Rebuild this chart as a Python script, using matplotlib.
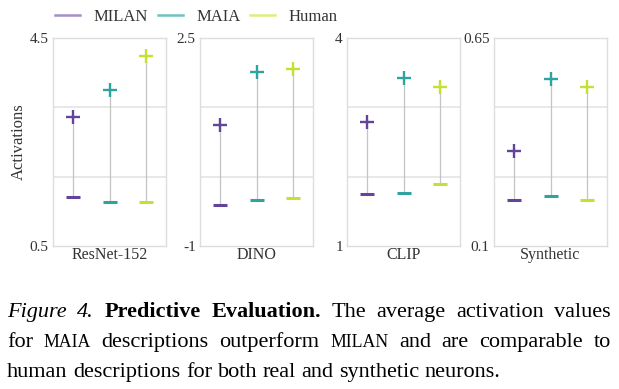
import matplotlib
matplotlib.use("Agg")
import matplotlib.pyplot as plt
from matplotlib.font_manager import FontProperties
from matplotlib.lines import Line2D

plt.rcParams['font.family'] = ['Liberation Serif', 'DejaVu Serif']

# ---------------- data ----------------
panels = ["ResNet-152", "DINO", "CLIP", "Synthetic"]
methods = ["MILAN", "MAIA", "Human"]
ylims = [(0.5, 4.5), (-1, 2.5), (1, 4), (0.1, 0.65)]
ytick_labels = [("0.5", "4.5"), ("-1", "2.5"), ("1", "4"), ("0.1", "0.65")]
# upper (+) and lower (-) average activations per panel, order MILAN, MAIA, Human
upper = [[2.99, 3.50, 4.15],
         [1.03, 1.93, 1.98],
         [2.79, 3.42, 3.29],
         [0.352, 0.542, 0.521]]
lower = [[1.44, 1.35, 1.35],
         [-0.305, -0.22, -0.20],
         [1.75, 1.76, 1.89],
         [0.2225, 0.233, 0.2225]]
colors = ["#62449a", "#2fa39d", "#c3e12e"]
legend_colors = ["#a58fcb", "#6fc4bf", "#dcee7a"]

W, H = 619, 389
fig = plt.figure(figsize=(W / 100, H / 100), dpi=100)

text_c = "#333333"
lefts = [53, 200, 347, 494]
aw, top, bot = 113, 38, 246
for i, name in enumerate(panels):
    ax = fig.add_axes([lefts[i] / W, 1 - bot / H, aw / W, (bot - top) / H])
    lo, hi = ylims[i]
    ax.set_ylim(lo, hi)
    ax.set_xlim(-0.56, 2.54)
    for s in ax.spines.values():
        s.set_color("#dddddd")
        s.set_linewidth(1.0)
    for k in (1, 2):
        ax.axhline(lo + (hi - lo) * k / 3, color="#e6e6e6", lw=1.3, zorder=0)
    for j in range(3):
        ax.plot([j, j], [lower[i][j], upper[i][j]], color="#c4c4c4", lw=0.9, zorder=1)
        ax.plot([j], [upper[i][j]], marker="+", ms=10, mew=1.7, color=colors[j], zorder=3)
        ax.plot([j], [lower[i][j]], marker="_", ms=10, mew=2.2, color=colors[j], zorder=3)
    ax.set_yticks([lo, hi])
    ax.set_yticklabels(ytick_labels[i])
    ax.set_xticks([])
    ax.tick_params(axis="y", length=0, pad=3, labelsize=11, labelcolor=text_c)
    ax.set_xlabel(name, fontsize=11.5, color=text_c, labelpad=1)
    if i == 0:
        ax.set_ylabel("Activations", fontsize=12, color=text_c, labelpad=2)

handles = [Line2D([], [], color=c, lw=1.8) for c in legend_colors]
fig.legend(handles, methods, loc="center left", bbox_to_anchor=(55 / W, 1 - 17 / H),
           ncol=3, frameon=False, fontsize=12, handlelength=1.5, handletextpad=0.8,
           columnspacing=0.6, borderpad=0, borderaxespad=0, labelcolor=text_c)

# ---------------- caption ----------------
fig.canvas.draw()
renderer = fig.canvas.get_renderer()
base = 16
reg = FontProperties(family="Liberation Serif", size=base)
ital = FontProperties(family="Liberation Serif", size=base, style="italic")
bold = FontProperties(family="Liberation Serif", size=base, weight="bold")
sc = FontProperties(family="Liberation Serif", size=base * 0.8)

lines = [
    ([("Figure", ital), ("4.", ital), ("Predictive", bold), ("Evaluation.", bold),
      ("The", reg), ("average", reg), ("activation", reg), ("values", reg)], True),
    ([("for", reg), ("MAIA", sc), ("descriptions", reg), ("outperform", reg), ("MILAN", sc),
      ("and", reg), ("are", reg), ("comparable", reg), ("to", reg)], True),
    ([("human", reg), ("descriptions", reg), ("for", reg), ("both", reg), ("real", reg),
      ("and", reg), ("synthetic", reg), ("neurons.", reg)], False),
]
x0, x1 = 7, 611
ys = [317, 347, 377]
for (words, justify), ypix in zip(lines, ys):
    arts = []
    widths = []
    for w, fp in words:
        t = fig.text(0, 1 - ypix / H, w, fontproperties=fp, color="black", va="baseline")
        bb = t.get_window_extent(renderer)
        arts.append(t)
        widths.append(bb.width)
    if justify:
        gap = (x1 - x0 - sum(widths)) / (len(words) - 1)
    else:
        sp = fig.text(0, 0, "a b", fontproperties=reg)
        sp2 = fig.text(0, 0, "ab", fontproperties=reg)
        gap = sp.get_window_extent(renderer).width - sp2.get_window_extent(renderer).width
        sp.remove(); sp2.remove()
    x = x0
    for t, wd in zip(arts, widths):
        t.set_x(x / W)
        x += wd + gap

fig.savefig("out.png", dpi=100)
